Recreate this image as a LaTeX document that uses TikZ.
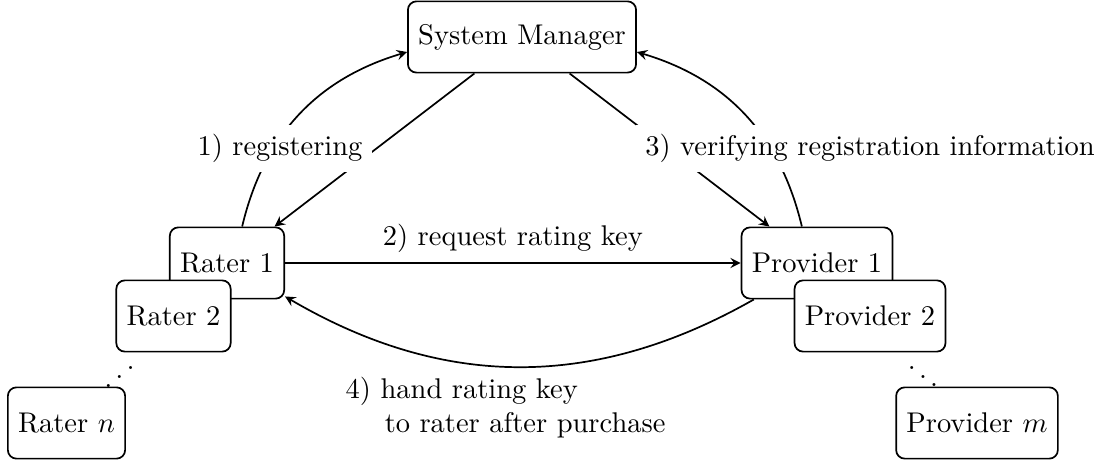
\documentclass[tikz,border=0pt]{standalone}
\begin{document}
\begin{tikzpicture}[x=0.3509pt,y=-0.3509pt, semithick, >=stealth,
  box/.style={draw, rounded corners=3pt, fill=white, minimum height=25pt, inner xsep=3.6pt, inner ysep=0pt},
  lab/.style={fill=white, inner sep=3.33pt},
  dotsnode/.style={inner sep=0pt}]
\useasboundingbox (0,0) rectangle (1109,463);
\node[box] (sm) at (522,37) {System Manager};
\node[box] (r1) at (227,263) {Rater 1};
\node[box] (r2) at (173.5,316) {Rater 2};
\node[box] (rn) at (66.5,423) {Rater $n$};
\node[box] (p1) at (817,263) {Provider 1};
\node[box] (p2) at (870,316) {Provider 2};
\node[box] (pm) at (977,423) {Provider $m$};
\node[dotsnode] (rdots) at (119.5,368.4) {\reflectbox{$\ddots$}};
\node[dotsnode] (pdots) at (923,368) {$\ddots$};
\draw[->] (r1) to[bend left=30] (sm);
\draw[->] (sm) -- (r1);
\draw[->] (p1) to[bend right=30] (sm);
\draw[->] (sm) -- (p1);
\draw[->] (r1) -- node[above] (lab2) {2) request rating key} (p1);
\draw[->] (p1) to[bend left=30] node[below, xshift=-4.7pt, align=left] (lab4) {4) hand rating key\\\hspace*{13.7pt}to rater after purchase} (r1);
\node[lab] (lab1) at (280,148.5) {1) registering};
\node[lab] (lab3) at (870,148.5) {3) verifying registration information};
\end{tikzpicture}
\end{document}
